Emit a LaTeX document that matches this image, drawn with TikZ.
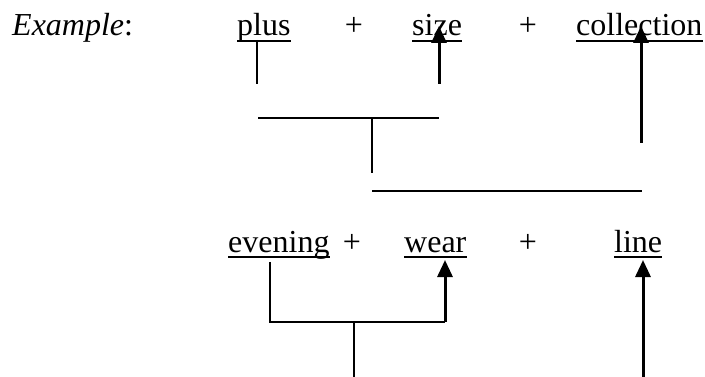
\documentclass[tikz,border=0pt]{standalone}
\usepackage{fontspec}
\setmainfont{Liberation Serif}
\usetikzlibrary{arrows.meta}
\begin{document}
\begin{tikzpicture}[x=1pt,y=-1pt,
  word/.style={anchor=base west,inner sep=0pt,font=\fontsize{32}{38}\selectfont},
  plussign/.style={anchor=base,inner sep=0pt,font=\fontsize{32}{38}\selectfont},
  uline/.style={line width=2.4pt},
  thin/.style={line width=2.2pt},
  head/.style={line width=3pt,-{Triangle[length=17pt,width=15pt]}}]
\useasboundingbox (0,0) rectangle (705,377);

% top row of words
\node[word] (ex) at (12,36) {\textit{Example}:};
\node[word] (plus) at (237,36) {plus};
\node[plussign] (p1) at (354,36) {+};
\node[word] (size) at (412,36) {size};
\node[plussign] (p2) at (528,36) {+};
\node[word] (coll) at (576,36) {collection};

% bottom row of words
\node[word] (even) at (228,252) {evening};
\node[plussign] (p3) at (352,252) {+};
\node[word] (wear) at (404,252) {wear};
\node[plussign] (p4) at (528,252) {+};
\node[word] (line) at (614,252) {line};

% underlines
\foreach \w in {plus,size,coll,even,wear,line}
  \draw[uline] ([yshift=-5pt]\w.base west) -- ([yshift=-5pt]\w.base east);

% upper bracket: plus + size, then + collection
\coordinate (a0) at (257,40);
\coordinate (a1) at (257,84);
\coordinate (b0) at (439,84);
\coordinate (b1) at (439,26);
\coordinate (h1l) at (258,118);
\coordinate (h1r) at (439,118);
\coordinate (s0) at (372,118);
\coordinate (s1) at (372,173);
\coordinate (h2l) at (372,191);
\coordinate (h2r) at (642,191);
\coordinate (c0) at (641,143);
\coordinate (c1) at (641,26);

\draw[thin] (a0) -- (a1);
\draw[head] (b0) -- (b1);
\draw[thin] (h1l) -- (h1r);
\draw[thin] (s0) -- (s1);
\draw[thin] (h2l) -- (h2r);
\draw[head] (c0) -- (c1);

% lower bracket: evening + wear, then + line
\coordinate (e0) at (270,262);
\coordinate (e1) at (270,322);
\coordinate (w0) at (445,322);
\coordinate (w1) at (445,260);
\coordinate (t0) at (354,322);
\coordinate (t1) at (354,377);
\coordinate (l0) at (643,377);
\coordinate (l1) at (643,260);

\draw[thin] (e0) -- (e1) -- (w0);
\draw[head] (w0) -- (w1);
\draw[thin] (t0) -- (t1);
\draw[head] (l0) -- (l1);
\end{tikzpicture}
\end{document}
